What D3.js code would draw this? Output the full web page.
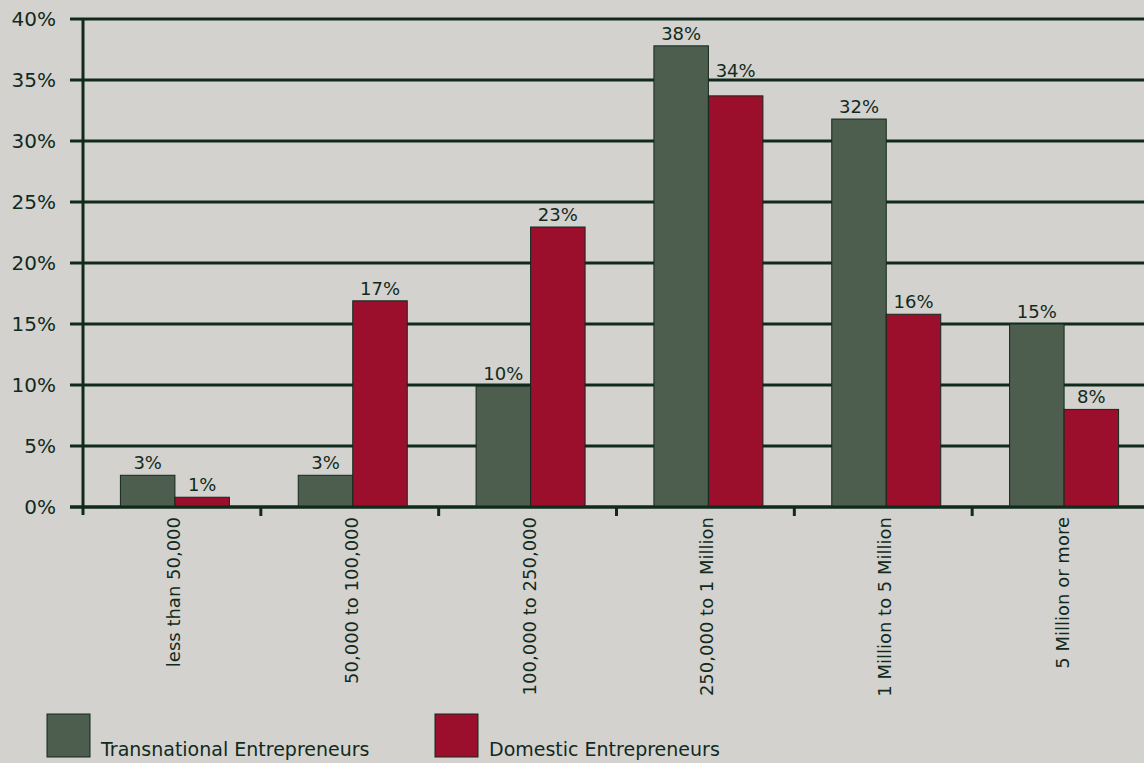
<!DOCTYPE html>
<html>
<head>
<meta charset="utf-8">
<script src="https://cdn.jsdelivr.net/npm/d3@7"></script>
<style>
  body { margin: 0; background: #d3d2cf; }
  svg { display: block; font-family: "DejaVu Sans", sans-serif; }
</style>
</head>
<body>
<script>
const categories = ["less than 50,000", "50,000 to 100,000", "100,000 to 250,000",
    "250,000 to 1 Million", "1 Million to 5 Million", "5 Million or more"];
const seriesNames = ["Transnational Entrepreneurs", "Domestic Entrepreneurs"];
const transnational = [2.6, 2.6, 9.9, 37.8, 31.8, 15.0];
const domestic = [0.8, 16.9, 22.95, 33.7, 15.8, 8.0];
const labelsTrans = ["3%", "3%", "10%", "38%", "32%", "15%"];
const labelsDom = ["1%", "17%", "23%", "34%", "16%", "8%"];
const yTicks = [0, 5, 10, 15, 20, 25, 30, 35, 40];

const colors = ["#4d5d4e", "#9b0f2d"];
const ink = "#112a1c";
const width = 1144, height = 763;

const svg = d3.select("body").append("svg")
    .attr("width", width)
    .attr("height", height);

const x = d3.scaleBand()
    .domain(categories)
    .range([83, 1150])
    .paddingInner(0)
    .paddingOuter(0);

const y = d3.scaleLinear()
    .domain([0, 40])
    .range([507, 19]);

const barW = 54.5;
const valueSize = 18;

// gridlines + y labels
const grid = svg.append("g");
grid.selectAll("line")
    .data(yTicks)
    .enter().append("line")
    .attr("x1", 70)
    .attr("x2", width)
    .attr("y1", d => y(d))
    .attr("y2", d => y(d))
    .style("stroke", ink)
    .style("stroke-width", "3px");

grid.selectAll("text")
    .data(yTicks)
    .enter().append("text")
    .attr("x", 56)
    .attr("y", d => y(d))
    .attr("dy", "0.36em")
    .attr("text-anchor", "end")
    .style("font-size", "20px")
    .attr("fill", ink)
    .text(d => d + "%");

// keep value labels clear of gridlines (moved up above the line)
function labelBaseline(v) {
    let base = y(v) - 6;
    const top = base - valueSize * 0.73;
    yTicks.forEach(t => {
        const gy = y(t);
        if (gy > top - 1 && gy < base + 1 && gy < y(v) - 2) base = gy - 3;
    });
    return base;
}

// bars
const rows = categories.map((c, i) => ({ c, vals: [transnational[i], domestic[i]], labels: [labelsTrans[i], labelsDom[i]] }));
const groups = svg.selectAll(".group")
    .data(rows)
    .enter().append("g")
    .attr("class", "group");

groups.each(function(d) {
    const g = d3.select(this);
    const center = x(d.c) + x.bandwidth() / 2 + 3;
    d.vals.forEach((v, k) => {
        const left = center - barW + k * barW;
        g.append("rect")
            .attr("x", left)
            .attr("y", y(v))
            .attr("width", barW)
            .attr("height", y(0) - y(v))
            .style("fill", colors[k])
            .style("stroke", ink)
            .style("stroke-width", "1px");
        g.append("text")
            .attr("x", left + barW / 2)
            .attr("y", labelBaseline(v))
            .attr("text-anchor", "middle")
            .style("font-size", valueSize + "px")
            .attr("fill", ink)
            .text(d.labels[k]);
    });
});

// y axis line
svg.append("line")
    .attr("x1", 83).attr("x2", 83)
    .attr("y1", y(40)).attr("y2", 515)
    .style("stroke", ink)
    .style("stroke-width", "3px");

// x baseline + ticks
svg.append("line")
    .attr("x1", 70).attr("x2", width)
    .attr("y1", y(0)).attr("y2", y(0))
    .style("stroke", ink)
    .style("stroke-width", "3px");

svg.selectAll(".xtick")
    .data(categories.slice(1))
    .enter().append("line")
    .attr("class", "xtick")
    .attr("x1", d => x(d)).attr("x2", d => x(d))
    .attr("y1", y(0)).attr("y2", 516)
    .style("stroke", ink)
    .style("stroke-width", "3px");

// category labels
svg.selectAll(".xlabel")
    .data(categories)
    .enter().append("text")
    .attr("class", "xlabel")
    .attr("transform", d => "translate(" + (x(d) + x.bandwidth() / 2 + 8) + ",517) rotate(-90)")
    .attr("text-anchor", "end")
    .style("font-size", "18px")
    .attr("fill", ink)
    .text(d => d);

// legend
const legendX = [47, 435];
const legend = svg.selectAll(".legend")
    .data(seriesNames)
    .enter().append("g")
    .attr("class", "legend")
    .attr("transform", (d, i) => "translate(" + legendX[i] + ",714)");

legend.append("rect")
    .attr("width", 43)
    .attr("height", 43)
    .style("fill", (d, i) => colors[i])
    .style("stroke", ink)
    .style("stroke-width", "1px");

legend.append("text")
    .attr("x", 54)
    .attr("y", 42)
    .style("font-size", "19px")
    .attr("fill", ink)
    .text(d => d);
</script>
</body>
</html>
